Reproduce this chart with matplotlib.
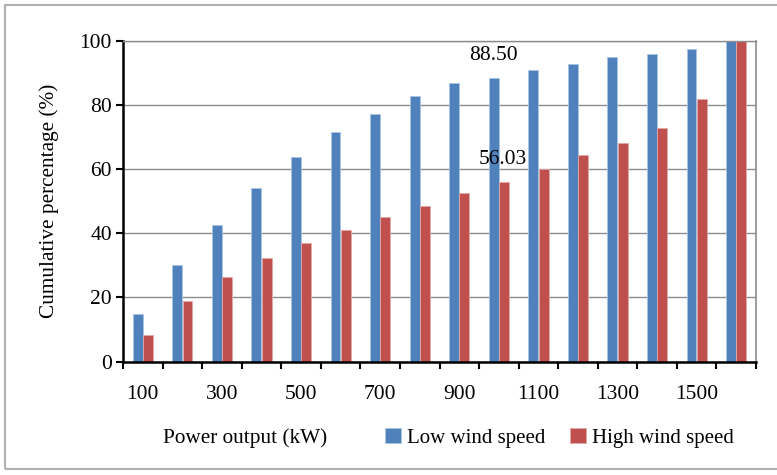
import matplotlib.pyplot as plt
import numpy as np
from matplotlib.patches import Rectangle

# Data
power = [100, 200, 300, 400, 500, 600, 700, 800, 900, 1000, 1100, 1200, 1300, 1400, 1500, 1600]
low_wind = [14.8, 30.0, 42.6, 54.1, 63.8, 71.7, 77.3, 82.8, 86.8, 88.5, 90.9, 92.9, 94.9, 96.0, 97.4, 100.0]
high_wind = [8.2, 18.9, 26.5, 32.4, 36.9, 41.1, 45.1, 48.6, 52.7, 56.03, 60.2, 64.3, 68.3, 72.9, 81.9, 100.0]
shown_labels = ['100', '300', '500', '700', '900', '1100', '1300', '1500']

plt.rcParams['font.family'] = ['Liberation Serif', 'DejaVu Serif']

fig = plt.figure(figsize=(7.77, 4.75), dpi=100)
ax = fig.add_axes([0.1583, 0.2389, 0.8147, 0.6748])
ax.set_axisbelow(True)

x = np.arange(len(power))
w = 0.25
b1 = ax.bar(x - 0.13, low_wind, w, color='#4F81BD', edgecolor='#A9C3E3', linewidth=0.6,
            label='Low wind speed', zorder=2)
b2 = ax.bar(x + 0.13, high_wind, w, color='#C0504D', edgecolor='#E3A9A7', linewidth=0.6,
            label='High wind speed', zorder=2)

ax.set_xlim(-0.5, len(power) - 0.5)
ax.set_ylim(0, 100)
ax.set_yticks([0, 20, 40, 60, 80, 100])
ax.yaxis.grid(True, color='#8C8C8C', linewidth=1.0)

# tick marks between categories, labels under every other category
ax.set_xticks(np.arange(len(power) + 1) - 0.5)
ax.set_xticklabels([])
ax.set_xticks(x[::2], minor=True)
ax.set_xticklabels(shown_labels, minor=True)
ax.tick_params(axis='x', which='major', direction='out', length=5, width=1.5, color='black')
ax.tick_params(axis='x', which='minor', length=0, pad=17, labelsize=15.5)
ax.tick_params(axis='y', direction='out', length=5, width=1.5, pad=3, labelsize=15.5)

for s in ['left', 'bottom']:
    ax.spines[s].set_color('black')
    ax.spines[s].set_linewidth(1.8)
ax.spines['right'].set_color('#8C8C8C')
ax.spines['right'].set_linewidth(1.2)
ax.spines['top'].set_color('#8C8C8C')
ax.spines['top'].set_linewidth(1.0)

ax.set_ylabel('Cumulative percentage (%)', fontsize=15.3, labelpad=15)

ax.text(9 - 0.13, 95.5, '88.50', ha='center', va='center', fontsize=15.5)
ax.text(9 + 0.1, 63.0, '56.03', ha='center', va='center', fontsize=15.5)

fig.text(0.316, 0.078, 'Power output (kW)', ha='center', va='center', fontsize=15.3)
fig.legend(handles=[b1, b2], loc='center', bbox_to_anchor=(0.72, 0.078), ncol=2, frameon=False,
           fontsize=15, handlelength=0.75, handleheight=0.75, handletextpad=0.3,
           columnspacing=1.2)

fig.patches.append(Rectangle((0.007, 0.012), 1.1, 0.977, transform=fig.transFigure,
                             fill=False, edgecolor='#B0B0B0', linewidth=1.5))

fig.savefig('out.png', dpi=100)
